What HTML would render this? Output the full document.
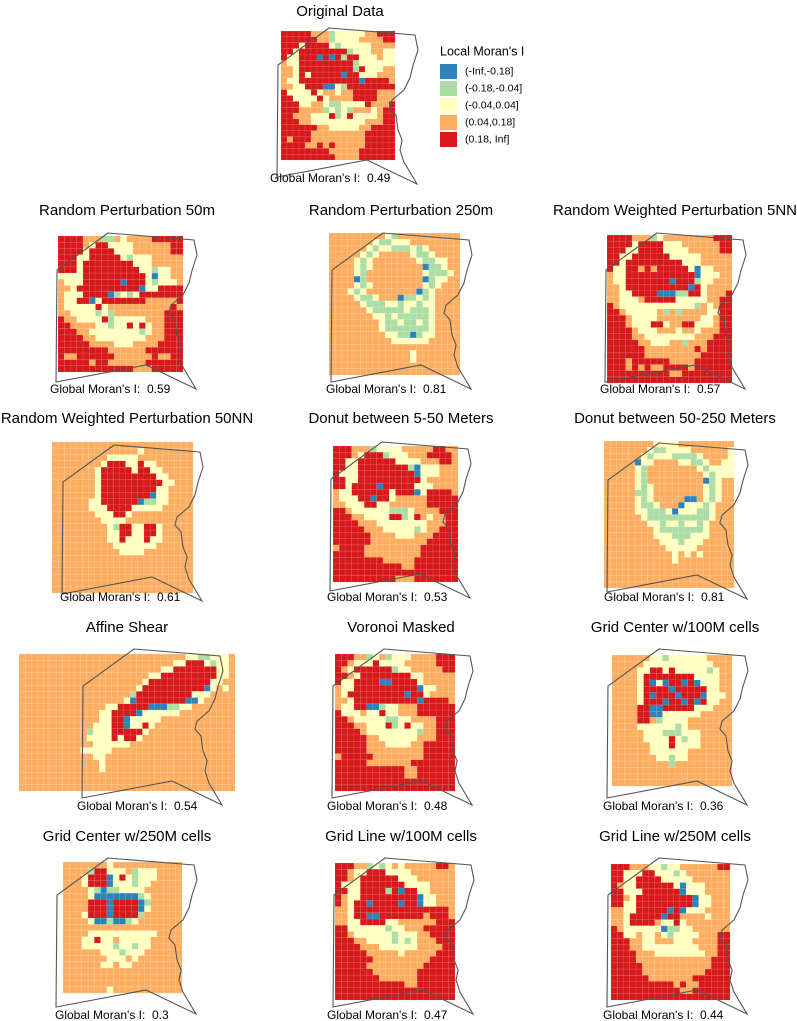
<!DOCTYPE html>
<html><head><meta charset="utf-8">
<style>
html,body{margin:0;padding:0;background:#fff;}
svg{display:block;font-family:"Liberation Sans",Arial,sans-serif;}
.lbl{white-space:pre;}
</style></head>
<body>
<svg id="fig" width="797" height="1021" viewBox="0 0 797 1021" xmlns="http://www.w3.org/2000/svg">
<rect width="797" height="1021" fill="#fff"/>
</svg>
<script>
// ---- data ----
const legendLabels = ["(-Inf,-0.18]","(-0.18,-0.04]","(-0.04,0.04]","(0.04,0.18]","(0.18, Inf]"];
const classCodes = ["B","G","Y","O","R"];
const panelTitles = ["Original Data","Random Perturbation 50m","Random Perturbation 250m","Random Weighted Perturbation 5NN","Random Weighted Perturbation 50NN","Donut between 5-50 Meters","Donut between 50-250 Meters","Affine Shear","Voronoi Masked","Grid Center w/100M cells","Grid Center w/250M cells","Grid Line w/100M cells","Grid Line w/250M cells"];
const moranValues = ["0.49","0.59","0.81","0.57","0.61","0.53","0.81","0.54","0.48","0.36","0.3","0.47","0.44"];
const gridOriginal = ["RRRRROOOGYYYYYOORRR","RRRRRROOGYYYYOOOORR","RRRYRRRRYGYYYYYOOOO","RRYRRRRRRRRGYYYOOYY","RYYRRRBRBRGRRYYYOYY","OYYRRRRRRRRRGYYYYYY","OOYRRRRRRRRRGRYYYOO","OOYRYRRRRRBRRYYYOOO","OYYRRRRRRRRRRBRRRRO","OOYYRRRBBYGRRRRRRRR","RYYYYRYOOYOORRRROOO","RRYYYYRYOOOORRRROOO","RRRYYOOYGGYYYYROOOR","RRROOOOGYGYGOOOYORR","RROOOYYYRGYRYYYYORR","RRROOYYYYYYYYYOOORR","RRRRRROOYYYYYOORRRR","RRRRROOOOOOOOORRRRR","RORRROOOOOOOOORRRRR","RRRROOROROOOOORRRRR","RRRRRRRROOOOORRRRRR","RRRRRRRRROOOORRRRRR"];
const gridRP50 = ["RRRROOOGGOYOOOORRRRR","RRRROYRRYYYYOOOOOORR","RRRRYRRRRYYYOOOOOORR","RRRYYRRRRRYGYYYOOOOO","RRRYRRRRRRRRYYYOOOOO","RRRYRRRRRRRRRYYGYYOO","YYYYRRRRRRRRRRYBYYOO","OYYYRRRRRRBRRRYGYYYO","OOYRRRRRRRRRRBYYRRRR","OYYYRRRRBGYGYRRRRRRR","OYYRRBYRRRRRRROOOOOR","OYYYYYRYOOOOOOOOOORO","OOYYYYGYGOOOOOOOORRR","ROOYYYYRGYYYYYOOORRR","RROOOOYYGYYRYRYOORRR","RRROOYYYYYYYYGYOORRR","RRRROOYYYYYYYYOOORRR","RRRRROOOOYYYOOOORRRR","RRRRRRRROOOOOORRRRRR","ROORRRRRROOOOOOROORR","RRRRRORROOOOOORRRRRR","RRRRRRRRRRRROOORRRRR"];
const gridRP250 = ["OOOOOOOOOYGOOOOOOOOOO","OOOOOOOYGGYYYOOOOOOOO","OOOOOOYGYYGGGYGYOOOOO","OOOOOYGYOOOOOYGGYOOOO","OOOOYGYOOOOOOOYGGYYOO","OOOOYGYOOOOOOOOBGGYOO","OOOOYGOOOOOOOOOYGGGYO","OOOOBGOOOOOOOOOBGYYOO","OOOOYGYOOOOOOOOYGYOOO","OOOYGYOOOOOOOOBGYOOOO","OOOOYGGYOOOBGGYGYOOOO","OOOOOYGGGYYGYYGYYOOOO","OOOOOOYGGGGGYGGGYOOOO","OOOOOOOYYGYGGGGGYOOOO","OOOOOOOOYGGYGGYGYOOOO","OOOOOOOOYGGGGGGGYOOOO","OOOOOOOOOYYGGBGYYOOOO","OOOOOOOOOOYYYYYYOOOOO","OOOOOOOOOOOOOOOOOOOOO","OOOOOOOOOOOOOYOOOOOOO","OOOOOOOOOOOOOYOOOOOOO","OOOOOOOOOOOOOOOOOOOOO","OOOOOOOOOOOOOOOOOOOOO"];
const gridRW5 = ["RRRROOOGYOOOOOOOORRR","RRRRYRRRRYYYOOOOOORR","RRRYYRRRRYYYYOOOOORR","RRYYRRRRRRYYYYYOOOOO","RRYRRRRRRRRRYYYOOOOO","RYYRRORORRRRRYBYYOOO","OYYRRRRRRRRRRRBYYYOO","OYYRRRRRRRBRRRGYYOOO","OOYRRRRRRRRRRBRYOOOO","OOYYRRRRBBBGGRRYOOOR","OOYYYORRRRRYYYYYOORR","ROYYYYYYYYYYYYGOYORR","RROYYYYYOGOGOOOOYYRR","RRROYYYYOOOOOOOYYORR","RRROYYYRRYOORRYYYORR","RRRROYYYOOOYOOYOOORR","RRRROOYYYYYYYYOOORRR","RRRRROOYYYOOGOOORRRR","RRRRRROOOOOOOORORRRR","RRRRRROOOOOOOOORRRRR","RRRORRRRRROOOORRRRRR","RRROROROORRRRORRRRRR","RRRRRRRRRROORRRRRRRR","RRRRRRRRRRRRRRRRRRRR"];
const gridRW50 = ["OOOOOOOOOOOOOOOOOOOOOOO","OOOOOOOOOOOOOOYOOOOOOOO","OOOOOOOOOYYYYYOOOOOOOOO","OOOOOOOOYRRRYYRYYOOOOOO","OOOOOOOYRRRRRYRRYYOOOOO","OOOOOOOYRRRRRRRRRYYOOOO","OOOOOOOYRRRRRRRRRRYYOOO","OOOOOOOYRRRRRRRRRYYOOOO","OOOOOOOYRRRRRRRRBYYOOOO","OOOOOOYYRRRRRRBGGYYOOOO","OOOOOOYYYRRRRYYYYYOOOOO","OOOOOOOYYYRRYOOOOOOOOOO","OOOOOOOOYYYYOOOOOOOOOOO","OOOOOOOOOYGRRYYRRYOOOOO","OOOOOOOOOYYRRYYRRYOOOOO","OOOOOOOOOYYRYYYRYYOOOOO","OOOOOOOOOOYYYYYYYOOOOOO","OOOOOOOOOOOYYYYOOOOOOOO","OOOOOOOOOOOOOOOOOOOOOOO","OOOOOOOOOOOOOOOOOOOOOOO","OOOOOOOOOOOOOOOOOOOOOOO","OOOOOOOOOOOOOOOOOOOOOOO","OOOOOOOOOOOOOOOOOOOOOOO","OOOOOOOOOOOOOOOOOOOOOOO"];
const gridD550 = ["RRROOOGYYYYOOOOORROO","RRROYRRRGYYYOOORRRRO","RRYYRRRRRRYYYYOOORRO","RRYYRRRRRRRRGBYYYOOO","RYYYRRRRRRRRRBYYYOOO","RRYYRRRRRRRRRRYOOOOO","RRYRRRRBRRRRRYYYOOOO","OYYRRRRRRYRRRBYRRRRO","OYYYRRBRRYOOOOORRRRR","OOYYYRRYYOOOOOORRRRR","RROYYYYYYGGGYOOOORRR","RRROOYYYYRRGYROYOORR","RRRROOOYYYYYYYYOOORR","RRRRROOOYYYYYGYOORRR","RRRRRROOOOYYYOOORRRR","RRRRRROOOOOOOOORRRRR","ORRRROOOOOOOOORRRRRR","RRRRROOOOOOOOORRRRRR","RRRRRRRROOOOORRRRRRR","RRRRRRRRRRROORRRRRRR","RRRRRRRRRRRRRRRRRRRR","RRRRRRRRRROOORRRRRRR"];
const gridD50250 = ["OOOOOOOOYYYYOOOOOOOOO","OOOOOOOYGGYYYYOOOOOOY","OOOOOOYGYYYGGGGYOOOOY","OOOOOBYYOOOOYYGGYOOYY","OOOOOYGOOOOOOOOYGYYYY","OOOOOYGOOOOOOOOOYGYYY","OOOOOYGOOOOOOOOOBGYOO","OOOOOYGYOOOOOOOOYGYOO","OOOOOGGYOOOOOOOOYGYOO","OOOOOYGYOOOOOBBOYGYOO","OOOOOYGGYOOOBYYYGYOOO","OOOOOYYGGGYBYYYGGYOOO","OOOOOOYGGGGGGGGGGYOOO","OOOOOOOYYGYYGYYGYOOOO","OOOOOOOOYGGGGGGGYOOOO","OOOOOOOOYYYGGGYYYOOOO","OOOOOOOOOYYYGYYYOOOOO","OOOOOOOOOOYYYYYOOOOOO","OOOOOOOOOOOYOYOYOOOOO","OOOOOOOOOOOYOOOOOOOOO","OOOOOOOOOOOOOOOOOOOOO","OOOOOOOOOOOOOOOOOOOOO","OOOOOOOOOOOOOOOOOOOOO","OOOOOOOOOOOOOOOOOOOOO"];
const gridAffine = ["OOOOOOOOOOOOOOOOOOOOOOOOOOOYYGGYYYO","OOOOOOOOOOOOOOOOOOOOOOOOOYYRRRYGYYO","OOOOOOOOOOOOOOOOOOOOOOOYYRRRRRRRYYO","OOOOOOOOOOOOOOOOOOOOOYYRRRRRRRRRYYO","OOOOOOOOOOOOOOOOOOOOYRRRRRRRRRRYYOO","OOOOOOOOOOOOOOOOOOOYRRRRRRRRRRBYOYO","OOOOOOOOOOOOOOOOOOGRRRRRRRRRYYYOOOO","OOOOOOOOOOOOOOOOOYBRRRRRRRRBBYOOOOO","OOOOOOOOOOOOOOYYRRRRRBBBGGYYOOOOOOO","OOOOOOOOOOOOOYYRRRRBYYYYYYOOOOOOOOO","OOOOOOOOOOOOOYYRRBYYYYYOOOOOOOOOOOO","OOOOOOOOOOOOYYYRRBYYRYOOOOOOOOOOOOO","OOOOOOOOOOOGYYYRRRRRYOOOOOOOOOOOOOO","OOOOOOOOOOOYYYYRYRRYOOOOOOOOOOOOOOO","OOOOOOOOOOOOYYYYYYOOOOOOOOOOOOOOOOO","OOOOOOOOOOYYYYYOOOOOOOOOOOOOOOOOOOO","OOOOOOOOOOOOYYOOOOOOOOOOOOOOOOOOOOO","OOOOOOOOOOOOOYOOOOOOOOOOOOOOOOOOOOO","OOOOOOOOOOOOOYOOOOOOOOOOOOOOOOOOOOO","OOOOOOOOOOOOOOOOOOOOOOOOOOOOOOOOOOO","OOOOOOOOOOOOOOOOOOOOOOOOOOOOOOOOOOO","OOOOOOOOOOOOOOOOOOOOOOOOOOOOOOOOOOO"];
const gridVoronoi = ["RRROOGYOGYYYOOOORRR","RROYYYRYYYYOOOOORRR","ROYRRRRRRGYYOOOOORR","RROYRRRRRRRRYYOOOOO","RYYRRRRBBRRRRYOOOOO","OYYRRRRRRRRRRBYYOOO","OYRRRRRRRRRBRRYOOOO","OOYRRRRRRRRRRBRRRRO","OYYRRBBGYYOOORRRRRR","RYYYOYYRYYOOORRRRRR","RROYYYYYGGYYOOOORRR","RRROOYYYRGYRYYOORRR","RRRROYYYYYYYYGOORRR","RRRRROOYYYYYYOOORRR","RRRRROOOYYYYOORRRRR","RRRRROOOOOOOOORRRRR","ORRRRROOOOOOOORRRRR","RRRRROOOOOOORRRRRRR","RRRRRRRRRRROORRRRRR","RRRRRRRRRRROORRRRRR","RRRRRRRRRRRRRRRRRRR","RRRRRRRRRRRRRRRRRRR"];
const gridGC100 = ["OOOOOOYYGYYYYYYOOOO","OOOOOYYYYYYYYYYYOOO","OOOOYYRRYRYYYYYGYOO","OOOOYRRRRRRRRYYYYOO","OOOOYRBYBRRBRBYYYOO","OOOOYRRRRBRRRRRYYOO","OOOOYRBRRRBRRRBYYYO","OOOOYRRRBRRBRBRYYOO","OOOORRBBRRRRRYYYOOO","OOOORRBBYYYYYYOOOOO","OOOORROGYYYYOOOOOOO","OOOOYYYYYYGYOOOOOOO","OOOOOYYYGGGYYYOOOOO","OOOOOYYYYRYGYYOOOOO","OOOOOOYYYRYYYYOOOOO","OOOOOOYYYYYYOOOOOOO","OOOOOOOYYGYYOOOOOOO","OOOOOOOOOGOOOOOOOOO","OOOOOOOOOOOOOOOOOOO","OOOOOOOOOOOOOOOOOOO","OOOOOOOOOOOOOOOOOOO"];
const gridGC250 = ["OOOOOOOYOOOOOOOOOOO","OOOOGRRYYYOGYYYOOOO","OOOYRRRBYRYGYYYOOOO","OOOYRRRBYYYGYYOOOOO","OOOOYGBGGYYYYOOOOOO","OOOOYBBBBBBBGYOOOOO","OOOORRRBRRRRBGOOOOO","OOOORRRBRRRRBYOOOOO","OOOYRRRBRRRRGOOOOOO","OOOOYBBGBBGYOOOOOOO","OOOOOOOOOOOOOOOOOOO","OOOOYYYYYYYYYYYOOOO","OOOYYRYYOYYYYYOOOOO","OOOYYYYYGYYGYYOOOOO","OOOOOOYYYGYYYOOOOOO","OOOOOOOYYYOYOOOOOOO","OOOOOOYYOYYOOOOOOOO","OOOOOOOOOOOOOOOOOOO","OOOOOOOOOOOOOOOOOOO","OOOOOOOOOOOOOOOOOOO","OOOOOOOYOOOOOOOOOOO"];
const gridGL100 = ["RRROOGYGYOYOOOOORRO","RROYYRRRYYYYOOOOOOO","RROYRRRRRRYYYOOOOOO","RYYYRRRRRRRYYYYOOOO","RRYYRRRRGRBRRYYOOOO","ROYYRRRRRRRRRBYYOOO","ROYRRBRRRRBRRBYYOOO","OOYRRRRRRRRRRRRRRRO","OOYRRBBRRRRRRRORRRO","OOYYRRRRYYOOOOOORRR","RRYYYYYYGYYOOORRRRR","RROYYYYYYGYYYOORRRR","RRROOYYYYGYGYOOORRR","RRRROOOYYYYYYOOOORR","RRRRROOOOOYOOOOORRR","RRRRRROOOOOOOOORRRR","RRRRROOOOOOOOORRRRR","RRRRRROOOOOOORRRRRR","RRRRRRROOOOOORRRRRR","RRRRRRRRRRROORRRRRR","RRRRRRRRRRRRRRRRRRR","RRRRRRRRRRRRRRRRRRR"];
const gridGL250 = ["RRROOOYYGYYOOOOOORR","RRYYYRRYYYGYOOOOOOO","RRYYRRRRYYYYYOOOOOO","ROYYRRRRRRYBYYYOOOO","RRYYYRRRRRRBYYYOOOO","RROYRRRRRRRRRBYYOOO","RRYYRRRRRRRRRBYYOOO","OOYYRRRRRBRBYYYOOOO","OOYRRRRRBRROOOOYOOO","OOYRRRROYYRYOOOOOOO","ROYYYYYYBGGYYOOOOOO","RRYYOYYOYGYYYYOOORR","RRROOYYOOOYYYOOOORR","RRROOYYYYYYYYYOOORR","RRRROOOYYYYYYYYOORR","RRRROOOOOOOOOOOORRR","RRRRROOOOOOOOOOORRR","RRRRROOOOOOOOOORRRR","RRRRRROOOOOOORRRRRR","RRRRRRRRRROROORRRRR","RRRRRRRRRRROORRRRRR","RRRRRRRRRRRRRRRRRRR"];
const panelGrids = [gridOriginal,gridRP50,gridRP250,gridRW5,gridRW50,gridD550,gridD50250,gridAffine,gridVoronoi,gridGC100,gridGC250,gridGL100,gridGL250];

// ---- styling / layout (not data) ----
const palette = {B:"#2b83ba",G:"#abdda4",Y:"#ffffbf",O:"#fdae61",R:"#d7191c"};
// [titleCx, titleCy, gridX, gridY, gridW, gridH, outlineX, outlineY, labelX, labelY]
const layout = [
 [340,12, 281,31,114,129, 277,28, 270,179],
 [127,211, 58,236,125,136, 56,233, 50,390],
 [401,211, 329,233,131,142, 331,233, 326,390],
 [675,211, 607,235,125,148, 605,233, 600,390],
 [127,419, 52,442,141,151, 62,445, 60,598],
 [401,419, 333,446,125,136, 330,442, 327,598],
 [675,419, 604,441,130,147, 607,443, 604,598],
 [127,628, 19,654,216,137, 82,649, 77,807],
 [401,628, 335,654,120,137, 332,649, 327,807],
 [675,628, 612,655,120,131, 607,649, 603,807],
 [127,837, 63,862,119,131, 56,858, 55,1016],
 [401,837, 335,863,120,137, 333,858, 327,1016],
 [675,837, 611,864,119,136, 607,858, 603,1016]
];
const outlineShape = [[0.369,0],[0.979,0.045],[1.0,0.141],[0.965,0.237],[0.943,0.32],[0.901,0.397],[0.816,0.462],[0.801,0.513],[0.844,0.558],[0.858,0.654],[0.887,0.718],[0.872,0.782],[0.9,0.859],[0.993,1.0],[0.638,0.846],[0,0.955],[0.007,0.237]];
const OW = 141, OH = 156;

const NS = "http://www.w3.org/2000/svg";
const svg = document.getElementById("fig");
function mk(tag, attrs, parent) {
  const e = document.createElementNS(NS, tag);
  for (const k in attrs) e.setAttribute(k, attrs[k]);
  (parent || svg).appendChild(e);
  return e;
}
function slug(s){return s.toLowerCase().replace(/[^a-z0-9]+/g,"-").replace(/^-|-$/g,"");}

panelGrids.forEach((grid, p) => {
  const L = layout[p];
  const g = mk("g", {});
  
  
  const t = mk("text", {x:L[0], y:L[1], "text-anchor":"middle", "dominant-baseline":"middle", "font-size":"15", fill:"#000"}, g);
  t.textContent = panelTitles[p];
  
  
  const rows = grid.length, cols = grid[0].length;
  const cw = L[4] / cols, ch = L[5] / rows;
  const cells = mk("g", {}, g);
  
  
  for (let r = 0; r < rows; r++) {
    for (let c = 0; c < cols; c++) {
      const code = grid[r][c];
      const rc = mk("rect", {x:(L[2]+c*cw).toFixed(2), y:(L[3]+r*ch).toFixed(2), width:(cw+0.05).toFixed(2), height:(ch+0.05).toFixed(2), fill:palette[code], stroke:"#ffffff", "stroke-opacity":"0.22", "stroke-width":"0.4"}, cells);
      
      
    }
  }
  const pts = outlineShape.map(q => (L[6]+q[0]*OW).toFixed(1)+","+(L[7]+q[1]*OH).toFixed(1)).join(" ");
  const poly = mk("polygon", {points:pts, fill:"none", stroke:"#555", "stroke-width":"1.1"}, g);
  
  
  const lb = mk("text", {x:L[8], y:L[9], "dominant-baseline":"middle", "font-size":"12", fill:"#000", "class":"lbl"}, g);
  lb.textContent = "Global Moran's I:  " + moranValues[p];
  
  
});

// legend
const lg = mk("g", {});


const lt = mk("text", {x:440, y:52, "dominant-baseline":"middle", "font-size":"12.5", fill:"#000"}, lg);
lt.textContent = "Local Moran's I";


legendLabels.forEach((lab, i) => {
  const y = 64 + i * 17;
  const k = mk("rect", {x:440, y:y, width:17, height:15, fill:palette[classCodes[i]]}, lg);
  
  
  const tx = mk("text", {x:465, y:y+7.5, "dominant-baseline":"middle", "font-size":"10.5", fill:"#000"}, lg);
  tx.textContent = lab;
  
  
});
</script>
</body></html>
